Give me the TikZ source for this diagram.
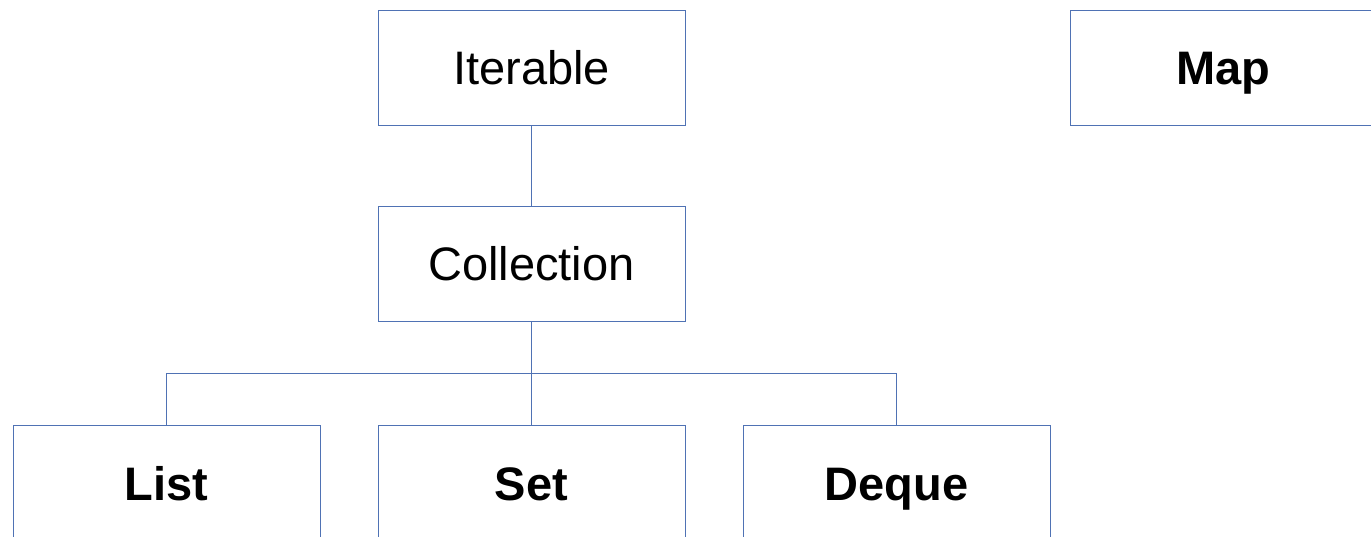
\documentclass[tikz,border=0pt]{standalone}
\usepackage{fontspec}
\setmainfont{Liberation Sans}
\definecolor{boxblue}{RGB}{79,114,180}
\begin{document}
\begin{tikzpicture}[x=1pt,y=-1pt,
  box/.style={draw=boxblue,line width=0.9pt,fill=white,minimum width=307pt,minimum height=115pt,
    inner sep=0pt,text height=35pt,text depth=0pt,font=\fontsize{47}{50}\selectfont},
  conn/.style={draw=boxblue,line width=0.9pt}]
\useasboundingbox (0,0) rectangle (1371,537);
\clip (0,0) rectangle (1371,537);
\node[box] (iter) at (531.5,67.5) {Iterable};
\node[box] (map) at (1223.5,67.5) {\bfseries Map};
\node[box] (coll) at (531.5,263.5) {Collection};
\node[box] (list) at (166.5,482.5) {\bfseries List};
\node[box] (set) at (531.5,482.5) {\bfseries Set};
\node[box] (deque) at (896.5,482.5) {\bfseries Deque};
\coordinate (j) at (531.5,373);
\draw[conn] (iter.south) -- (coll.north);
\draw[conn] (coll.south) -- (set.north);
\draw[conn] (list.north) -- (list.north |- j) -- (deque.north |- j) -- (deque.north);
\end{tikzpicture}
\end{document}
